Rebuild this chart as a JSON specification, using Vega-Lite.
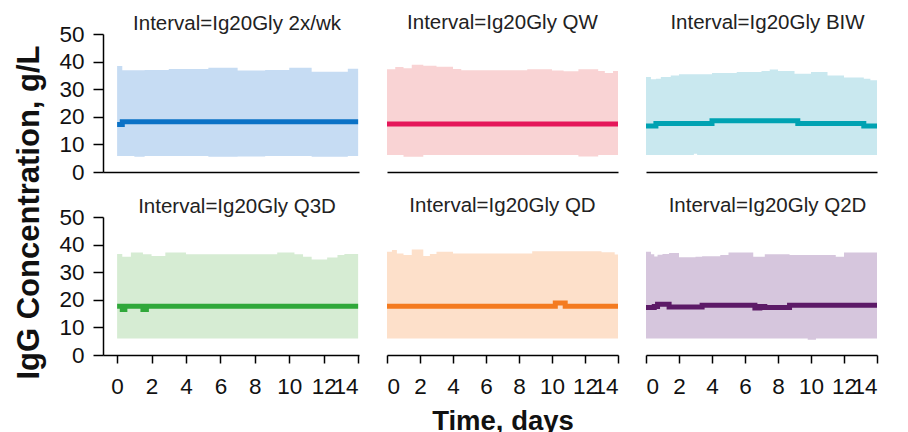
{
  "$schema": "https://vega.github.io/schema/vega-lite/v6.json",
  "padding": {"left": 12, "top": 12, "right": 5, "bottom": 5},
  "background": "white",
  "config": {
    "view": {"stroke": null},
    "font": "Liberation Sans",
    "axis": {"grid": false, "domainColor": "#000", "domainWidth": 1.5, "tickColor": "#000", "tickWidth": 1.5, "labelFont": "Liberation Sans", "labelFontSize": 22.5, "labelColor": "#111", "labelOverlap": false, "titleFont": "Liberation Sans", "titleFontWeight": "bold", "titleColor": "#111"},
    "title": {"font": "Liberation Sans", "fontSize": 20.5, "fontWeight": "normal", "color": "#222"}
  },
  "data": {"values": [
    {"p": "2x/wk", "t": 0, "lo": 5.8, "hi": 38.4, "med": 17.2},
    {"p": "2x/wk", "t": 0.3, "lo": 5.8, "hi": 36.9, "med": 18.2},
    {"p": "2x/wk", "t": 1.0, "lo": 5.5, "hi": 36.9, "med": 18.2},
    {"p": "2x/wk", "t": 1.6, "lo": 5.8, "hi": 37.0, "med": 18.2},
    {"p": "2x/wk", "t": 3.0, "lo": 5.8, "hi": 37.3, "med": 18.2},
    {"p": "2x/wk", "t": 5.3, "lo": 5.5, "hi": 37.8, "med": 18.2},
    {"p": "2x/wk", "t": 7.0, "lo": 5.6, "hi": 36.8, "med": 18.2},
    {"p": "2x/wk", "t": 8.6, "lo": 5.8, "hi": 37.0, "med": 18.2},
    {"p": "2x/wk", "t": 10.0, "lo": 5.8, "hi": 37.8, "med": 18.2},
    {"p": "2x/wk", "t": 11.3, "lo": 5.5, "hi": 36.3, "med": 18.2},
    {"p": "2x/wk", "t": 13.4, "lo": 5.8, "hi": 37.4, "med": 18.2},
    {"p": "2x/wk", "t": 14, "lo": 5.8, "hi": 37.4, "med": 18.2},

    {"p": "QW", "t": 0, "lo": 6.2, "hi": 37.2, "med": 17.4},
    {"p": "QW", "t": 0.5, "lo": 6.2, "hi": 38.0, "med": 17.4},
    {"p": "QW", "t": 1.0, "lo": 5.5, "hi": 37.6, "med": 17.4},
    {"p": "QW", "t": 1.5, "lo": 5.5, "hi": 38.9, "med": 17.4},
    {"p": "QW", "t": 2.2, "lo": 6.2, "hi": 38.5, "med": 17.4},
    {"p": "QW", "t": 3.0, "lo": 6.2, "hi": 38.1, "med": 17.4},
    {"p": "QW", "t": 4.0, "lo": 6.2, "hi": 37.3, "med": 17.4},
    {"p": "QW", "t": 4.5, "lo": 6.2, "hi": 36.9, "med": 17.4},
    {"p": "QW", "t": 8.5, "lo": 6.2, "hi": 37.2, "med": 17.4},
    {"p": "QW", "t": 10.0, "lo": 6.2, "hi": 36.8, "med": 17.4},
    {"p": "QW", "t": 10.7, "lo": 6.2, "hi": 36.5, "med": 17.4},
    {"p": "QW", "t": 11.6, "lo": 5.6, "hi": 37.2, "med": 17.4},
    {"p": "QW", "t": 12.8, "lo": 6.2, "hi": 36.6, "med": 17.4},
    {"p": "QW", "t": 13.2, "lo": 6.2, "hi": 35.9, "med": 17.4},
    {"p": "QW", "t": 13.7, "lo": 6.2, "hi": 36.6, "med": 17.4},
    {"p": "QW", "t": 14, "lo": 6.2, "hi": 36.6, "med": 17.4},

    {"p": "BIW", "t": 0, "lo": 6.2, "hi": 34.4, "med": 16.7},
    {"p": "BIW", "t": 0.3, "lo": 6.2, "hi": 33.6, "med": 16.7},
    {"p": "BIW", "t": 0.6, "lo": 6.2, "hi": 33.8, "med": 17.6},
    {"p": "BIW", "t": 0.9, "lo": 6.2, "hi": 34.4, "med": 17.6},
    {"p": "BIW", "t": 1.5, "lo": 6.2, "hi": 35.0, "med": 17.6},
    {"p": "BIW", "t": 2.0, "lo": 6.2, "hi": 35.4, "med": 17.6},
    {"p": "BIW", "t": 2.9, "lo": 6.6, "hi": 35.4, "med": 17.6},
    {"p": "BIW", "t": 3.1, "lo": 6.2, "hi": 35.4, "med": 17.6},
    {"p": "BIW", "t": 4.0, "lo": 6.2, "hi": 35.9, "med": 18.6},
    {"p": "BIW", "t": 5.5, "lo": 6.2, "hi": 36.2, "med": 18.6},
    {"p": "BIW", "t": 7.0, "lo": 6.2, "hi": 36.6, "med": 18.6},
    {"p": "BIW", "t": 7.5, "lo": 6.2, "hi": 37.1, "med": 18.6},
    {"p": "BIW", "t": 8.0, "lo": 6.2, "hi": 36.6, "med": 18.6},
    {"p": "BIW", "t": 9.0, "lo": 6.2, "hi": 35.6, "med": 18.6},
    {"p": "BIW", "t": 9.2, "lo": 6.2, "hi": 35.6, "med": 17.6},
    {"p": "BIW", "t": 10.0, "lo": 6.2, "hi": 36.2, "med": 17.6},
    {"p": "BIW", "t": 11.0, "lo": 6.2, "hi": 35.0, "med": 17.6},
    {"p": "BIW", "t": 12.0, "lo": 6.2, "hi": 34.2, "med": 17.6},
    {"p": "BIW", "t": 13.2, "lo": 6.2, "hi": 33.8, "med": 16.7},
    {"p": "BIW", "t": 13.6, "lo": 6.2, "hi": 33.2, "med": 16.7},
    {"p": "BIW", "t": 14, "lo": 6.2, "hi": 32.6, "med": 16.7},

    {"p": "Q3D", "t": 0, "lo": 6.0, "hi": 36.6, "med": 17.7},
    {"p": "Q3D", "t": 0.3, "lo": 6.0, "hi": 35.6, "med": 16.5},
    {"p": "Q3D", "t": 0.45, "lo": 6.0, "hi": 35.6, "med": 17.7},
    {"p": "Q3D", "t": 0.8, "lo": 6.0, "hi": 37.1, "med": 17.7},
    {"p": "Q3D", "t": 1.5, "lo": 6.0, "hi": 36.5, "med": 16.5},
    {"p": "Q3D", "t": 1.7, "lo": 6.0, "hi": 36.5, "med": 17.7},
    {"p": "Q3D", "t": 2.0, "lo": 6.0, "hi": 35.9, "med": 17.7},
    {"p": "Q3D", "t": 2.8, "lo": 6.0, "hi": 37.1, "med": 17.7},
    {"p": "Q3D", "t": 4.0, "lo": 6.0, "hi": 36.5, "med": 17.7},
    {"p": "Q3D", "t": 9.3, "lo": 6.0, "hi": 37.1, "med": 17.7},
    {"p": "Q3D", "t": 10.3, "lo": 6.0, "hi": 36.5, "med": 17.7},
    {"p": "Q3D", "t": 10.8, "lo": 6.0, "hi": 35.6, "med": 17.7},
    {"p": "Q3D", "t": 11.3, "lo": 6.0, "hi": 34.6, "med": 17.7},
    {"p": "Q3D", "t": 12.2, "lo": 6.0, "hi": 35.3, "med": 17.7},
    {"p": "Q3D", "t": 12.8, "lo": 6.0, "hi": 36.2, "med": 17.7},
    {"p": "Q3D", "t": 13.2, "lo": 6.0, "hi": 36.6, "med": 17.7},
    {"p": "Q3D", "t": 14, "lo": 6.0, "hi": 36.6, "med": 17.7},

    {"p": "QD", "t": 0, "lo": 6.0, "hi": 37.4, "med": 17.7},
    {"p": "QD", "t": 0.3, "lo": 6.0, "hi": 38.0, "med": 17.7},
    {"p": "QD", "t": 0.6, "lo": 6.0, "hi": 36.8, "med": 17.7},
    {"p": "QD", "t": 1.0, "lo": 6.0, "hi": 36.2, "med": 17.7},
    {"p": "QD", "t": 1.5, "lo": 6.0, "hi": 38.2, "med": 17.7},
    {"p": "QD", "t": 2.2, "lo": 6.0, "hi": 35.9, "med": 17.7},
    {"p": "QD", "t": 2.6, "lo": 6.0, "hi": 36.6, "med": 17.7},
    {"p": "QD", "t": 3.0, "lo": 6.0, "hi": 37.4, "med": 17.7},
    {"p": "QD", "t": 4.0, "lo": 6.0, "hi": 36.8, "med": 17.7},
    {"p": "QD", "t": 8.8, "lo": 6.0, "hi": 37.6, "med": 17.7},
    {"p": "QD", "t": 10.2, "lo": 6.0, "hi": 37.6, "med": 18.8},
    {"p": "QD", "t": 10.8, "lo": 6.0, "hi": 37.6, "med": 17.7},
    {"p": "QD", "t": 13.0, "lo": 6.0, "hi": 37.2, "med": 17.7},
    {"p": "QD", "t": 13.8, "lo": 6.0, "hi": 36.4, "med": 17.7},
    {"p": "QD", "t": 14, "lo": 6.0, "hi": 36.4, "med": 17.7},

    {"p": "Q2D", "t": 0, "lo": 6.0, "hi": 37.4, "med": 17.2},
    {"p": "Q2D", "t": 0.3, "lo": 6.0, "hi": 36.5, "med": 17.2},
    {"p": "Q2D", "t": 0.5, "lo": 6.0, "hi": 35.7, "med": 17.6},
    {"p": "Q2D", "t": 0.7, "lo": 6.0, "hi": 36.3, "med": 18.4},
    {"p": "Q2D", "t": 1.0, "lo": 6.0, "hi": 36.6, "med": 18.4},
    {"p": "Q2D", "t": 1.4, "lo": 6.0, "hi": 37.0, "med": 17.4},
    {"p": "Q2D", "t": 2.0, "lo": 6.0, "hi": 35.4, "med": 17.4},
    {"p": "Q2D", "t": 3.0, "lo": 6.0, "hi": 35.6, "med": 17.4},
    {"p": "Q2D", "t": 3.4, "lo": 6.0, "hi": 35.8, "med": 18.0},
    {"p": "Q2D", "t": 4.5, "lo": 6.0, "hi": 36.2, "med": 18.0},
    {"p": "Q2D", "t": 5.0, "lo": 6.0, "hi": 37.1, "med": 18.0},
    {"p": "Q2D", "t": 6.5, "lo": 6.0, "hi": 35.6, "med": 18.0},
    {"p": "Q2D", "t": 6.6, "lo": 6.0, "hi": 35.6, "med": 17.0},
    {"p": "Q2D", "t": 6.9, "lo": 6.0, "hi": 35.6, "med": 17.6},
    {"p": "Q2D", "t": 7.2, "lo": 6.0, "hi": 36.5, "med": 17.2},
    {"p": "Q2D", "t": 8.7, "lo": 6.0, "hi": 36.2, "med": 18.0},
    {"p": "Q2D", "t": 9.8, "lo": 5.5, "hi": 36.2, "med": 18.0},
    {"p": "Q2D", "t": 10.3, "lo": 6.0, "hi": 36.2, "med": 18.0},
    {"p": "Q2D", "t": 11.5, "lo": 6.0, "hi": 35.6, "med": 18.0},
    {"p": "Q2D", "t": 12.0, "lo": 6.0, "hi": 37.1, "med": 18.0},
    {"p": "Q2D", "t": 14, "lo": 6.0, "hi": 36.5, "med": 18.0}
  ]},
  "bounds": "flush",
  "columns": 3,
  "spacing": {"row": 45, "column": 28},
  "concat": [
    {
      "width": 256, "height": 138,
      "title": {"text": "Interval=Ig20Gly 2x/wk", "dx": 6, "offset": -11.5},
      "transform": [{"filter": "datum.p == '2x/wk'"}],
      "encoding": {"x": {"field": "t", "type": "quantitative", "scale": {"domain": [-0.82, 14.05], "nice": false, "zero": false}, "axis": {"ticks": false, "labels": false, "title": null}}},
      "layer": [
        {"mark": {"type": "area", "interpolate": "step-after", "color": "#c6dcf3", "opacity": 1},
         "encoding": {"y": {"field": "lo", "type": "quantitative", "scale": {"domain": [0, 50], "nice": false}, "axis": {"values": [0, 10, 20, 30, 40, 50], "tickSize": 10, "labelPadding": 9, "title": "IgG Concentration, g/L", "titleFontSize": 31, "titleAngle": 270, "titleX": -65, "titleY": 178, "titleAlign": "center", "titleBaseline": "alphabetic"}}, "y2": {"field": "hi"}}},
        {"mark": {"type": "line", "interpolate": "step-after", "color": "#0b72c6", "strokeWidth": 5},
         "encoding": {"y": {"field": "med", "type": "quantitative", "scale": {"domain": [0, 50], "nice": false}, "axis": {"values": [0, 10, 20, 30, 40, 50], "tickSize": 10, "labelPadding": 9, "title": "IgG Concentration, g/L", "titleFontSize": 31, "titleAngle": 270, "titleX": -65, "titleY": 178, "titleAlign": "center", "titleBaseline": "alphabetic"}}}}
      ]
    },
    {
      "width": 231, "height": 138,
      "title": {"text": "Interval=Ig20Gly QW", "offset": 1},
      "transform": [{"filter": "datum.p == 'QW'"}],
      "encoding": {"x": {"field": "t", "type": "quantitative", "scale": {"domain": [0, 14], "nice": false, "zero": false}, "axis": {"ticks": false, "labels": false, "title": null}}},
      "layer": [
        {"mark": {"type": "area", "interpolate": "step-after", "color": "#f9d3d4", "opacity": 1},
         "encoding": {"y": {"field": "lo", "type": "quantitative", "scale": {"domain": [0, 50], "nice": false}, "axis": null}, "y2": {"field": "hi"}}},
        {"mark": {"type": "line", "interpolate": "step-after", "color": "#e5175a", "strokeWidth": 5},
         "encoding": {"y": {"field": "med", "type": "quantitative", "scale": {"domain": [0, 50], "nice": false}, "axis": null}}}
      ]
    },
    {
      "width": 231, "height": 138,
      "title": {"text": "Interval=Ig20Gly BIW", "dx": 6, "offset": 1},
      "transform": [{"filter": "datum.p == 'BIW'"}],
      "encoding": {"x": {"field": "t", "type": "quantitative", "scale": {"domain": [0, 14], "nice": false, "zero": false}, "axis": {"ticks": false, "labels": false, "title": null}}},
      "layer": [
        {"mark": {"type": "area", "interpolate": "step-after", "color": "#c9e8ef", "opacity": 1},
         "encoding": {"y": {"field": "lo", "type": "quantitative", "scale": {"domain": [0, 50], "nice": false}, "axis": null}, "y2": {"field": "hi"}}},
        {"mark": {"type": "line", "interpolate": "step-after", "color": "#00a2b2", "strokeWidth": 5},
         "encoding": {"y": {"field": "med", "type": "quantitative", "scale": {"domain": [0, 50], "nice": false}, "axis": null}}}
      ]
    },
    {
      "width": 256, "height": 138,
      "title": {"text": "Interval=Ig20Gly Q3D", "dx": 6, "offset": -11.5},
      "transform": [{"filter": "datum.p == 'Q3D'"}],
      "encoding": {"x": {"field": "t", "type": "quantitative", "scale": {"domain": [-0.82, 14.05], "nice": false, "zero": false}, "axis": {"values": [0, 2, 4, 6, 8, 10, 12, 14], "tickSize": 8, "labelPadding": 12, "title": null}}},
      "layer": [
        {"mark": {"type": "area", "interpolate": "step-after", "color": "#d6ecd3", "opacity": 1},
         "encoding": {"y": {"field": "lo", "type": "quantitative", "scale": {"domain": [0, 50], "nice": false}, "axis": {"values": [0, 10, 20, 30, 40, 50], "tickSize": 10, "labelPadding": 9, "title": null}}, "y2": {"field": "hi"}}},
        {"mark": {"type": "line", "interpolate": "step-after", "color": "#30a83a", "strokeWidth": 5},
         "encoding": {"y": {"field": "med", "type": "quantitative", "scale": {"domain": [0, 50], "nice": false}, "axis": {"values": [0, 10, 20, 30, 40, 50], "tickSize": 10, "labelPadding": 9, "title": null}}}}
      ]
    },
    {
      "width": 231, "height": 138,
      "title": {"text": "Interval=Ig20Gly QD", "offset": 1},
      "transform": [{"filter": "datum.p == 'QD'"}],
      "encoding": {"x": {"field": "t", "type": "quantitative", "scale": {"domain": [0, 14], "nice": false, "zero": false}, "axis": {"values": [0, 2, 4, 6, 8, 10, 12, 14], "tickSize": 8, "labelPadding": 12, "title": "Time, days", "titleFontSize": 27.5, "titlePadding": 10}}},
      "layer": [
        {"mark": {"type": "area", "interpolate": "step-after", "color": "#fde0ca", "opacity": 1},
         "encoding": {"y": {"field": "lo", "type": "quantitative", "scale": {"domain": [0, 50], "nice": false}, "axis": null}, "y2": {"field": "hi"}}},
        {"mark": {"type": "line", "interpolate": "step-after", "color": "#f47b20", "strokeWidth": 5},
         "encoding": {"y": {"field": "med", "type": "quantitative", "scale": {"domain": [0, 50], "nice": false}, "axis": null}}}
      ]
    },
    {
      "width": 231, "height": 138,
      "title": {"text": "Interval=Ig20Gly Q2D", "dx": 6, "offset": 1},
      "transform": [{"filter": "datum.p == 'Q2D'"}],
      "encoding": {"x": {"field": "t", "type": "quantitative", "scale": {"domain": [0, 14], "nice": false, "zero": false}, "axis": {"values": [0, 2, 4, 6, 8, 10, 12, 14], "tickSize": 8, "labelPadding": 12, "title": null}}},
      "layer": [
        {"mark": {"type": "area", "interpolate": "step-after", "color": "#d6c6dd", "opacity": 1},
         "encoding": {"y": {"field": "lo", "type": "quantitative", "scale": {"domain": [0, 50], "nice": false}, "axis": null}, "y2": {"field": "hi"}}},
        {"mark": {"type": "line", "interpolate": "step-after", "color": "#5c1a67", "strokeWidth": 5},
         "encoding": {"y": {"field": "med", "type": "quantitative", "scale": {"domain": [0, 50], "nice": false}, "axis": null}}}
      ]
    }
  ]
}
